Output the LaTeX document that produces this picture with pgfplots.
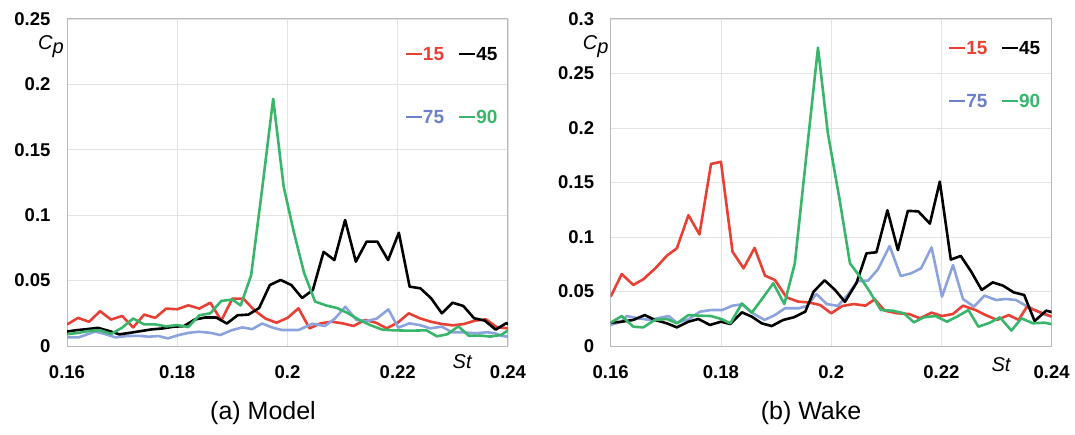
\documentclass[border=0pt]{standalone}
\usepackage{fontspec}
\setmainfont{Liberation Sans}
\usepackage{pgfplots}
\pgfplotsset{compat=1.18}

\definecolor{cpred}{RGB}{232,64,52}
\definecolor{cpblue}{RGB}{140,163,222}
\definecolor{cpbluetxt}{RGB}{108,128,205}
\definecolor{cpgreen}{RGB}{58,182,108}

% legend entry: short coloured dash followed by the angle
\newcommand{\lgd}[2]{{\color{#1}\rule[0.31em]{0.84em}{0.1em}\hspace{0.06em}\textbf{#2}}}

\pgfplotsset{
  cpstyle/.style={
    scale only axis, width=441pt, height=327pt,
    xmin=0.16, xmax=0.24, ymin=0,
    xtick={0.16,0.18,0.2,0.22,0.24},
    scaled ticks=false,
    /pgf/number format/.cd, fixed, precision=2, assume math mode=true, /pgfplots/.cd,
    grid=major, major grid style={color=gray!22, line width=0.8pt},
    axis line style={gray!55, line width=1pt},
    major tick length=0pt,
    clip mode=individual,
    tick label style={font=\fontsize{18.5}{20}\selectfont\bfseries},
    xticklabel style={yshift=-16pt},
    yticklabel style={xshift=-13pt},
    every axis plot/.append style={line width=2.6pt, line join=round, no marks},
  }
}

\begin{document}
\begin{tikzpicture}[x=1pt,y=1pt]
\path[use as bounding box] (0,0) rectangle (1075,434);

% ---------------- (a) Model ----------------
\begin{axis}[cpstyle, at={(67pt,88pt)}, anchor=south west,
  ymax=0.25, ytick={0,0.05,0.1,0.15,0.2,0.25}]
\addplot[cpred] coordinates {
(0.160,0.0164) (0.162,0.0215) (0.164,0.0185) (0.166,0.0266) (0.168,0.0202)
(0.170,0.0230) (0.172,0.0142) (0.174,0.0240) (0.176,0.0215) (0.178,0.0286)
(0.180,0.0281) (0.182,0.0311) (0.184,0.0286) (0.186,0.0331) (0.188,0.0195)
(0.190,0.0362) (0.192,0.0362) (0.194,0.0273) (0.196,0.0210) (0.198,0.0178)
(0.200,0.0215) (0.202,0.0288) (0.204,0.0135) (0.206,0.0173) (0.208,0.0186)
(0.210,0.0173) (0.212,0.0153) (0.214,0.0199) (0.216,0.0179) (0.218,0.0135)
(0.220,0.0179) (0.222,0.0250) (0.224,0.0212) (0.226,0.0186) (0.228,0.0168)
(0.230,0.0158) (0.232,0.0168) (0.234,0.0194) (0.236,0.0204) (0.238,0.0143)
(0.240,0.0135)};
\addplot[cpblue] coordinates {
(0.1600,0.0066) (0.1621,0.0066) (0.1651,0.0110) (0.1669,0.0091) (0.1688,0.0066)
(0.1709,0.0076) (0.1730,0.0078) (0.1748,0.0071) (0.1766,0.0076) (0.1783,0.0058)
(0.1803,0.0084) (0.1821,0.0101) (0.1839,0.0109) (0.1860,0.0101) (0.1878,0.0084)
(0.1899,0.0121) (0.1918,0.0142) (0.1936,0.0129) (0.1954,0.0172) (0.1972,0.0142)
(0.1990,0.0122) (0.2020,0.0122) (0.2045,0.0170) (0.2068,0.0153) (0.2086,0.0210)
(0.2105,0.0300) (0.2125,0.0199) (0.2144,0.0190) (0.2162,0.0210) (0.2183,0.0280)
(0.2201,0.0140) (0.2221,0.0173) (0.2240,0.0160) (0.2259,0.0135) (0.2280,0.0148)
(0.2298,0.0105) (0.2319,0.0105) (0.2340,0.0097) (0.2362,0.0105) (0.2377,0.0097)
(0.2389,0.0077) (0.2400,0.0071)};
\addplot[black] coordinates {
(0.15975,0.0109) (0.16170,0.0121) (0.16365,0.0129) (0.16560,0.0139) (0.16755,0.0116)
(0.16950,0.0089) (0.17145,0.0101) (0.17340,0.0114) (0.17535,0.0127) (0.17730,0.0134)
(0.17925,0.0147) (0.18120,0.0152) (0.18315,0.0202) (0.18510,0.0218) (0.18705,0.0218)
(0.18900,0.0172) (0.19095,0.0235) (0.19290,0.0240) (0.19485,0.0290) (0.19680,0.0466)
(0.19875,0.0505) (0.20070,0.0466) (0.20265,0.0367) (0.20460,0.0428) (0.20655,0.0720)
(0.20850,0.0657) (0.21045,0.0963) (0.21240,0.0645) (0.21435,0.0798) (0.21630,0.0798)
(0.21825,0.0657) (0.22020,0.0866) (0.22215,0.0454) (0.22410,0.0441) (0.22605,0.0365)
(0.22800,0.0250) (0.22995,0.0331) (0.23190,0.0306) (0.23385,0.0212) (0.23580,0.0194)
(0.23775,0.0125) (0.23970,0.0175) (0.24165,0.0130)};
\addplot[cpgreen] coordinates {
(0.1600,0.0090) (0.1620,0.0100) (0.1640,0.0115) (0.1660,0.0120) (0.1680,0.0092)
(0.1700,0.0140) (0.1720,0.0210) (0.1740,0.0165) (0.1760,0.0165) (0.1780,0.0150)
(0.1800,0.0160) (0.1820,0.0145) (0.1840,0.0235) (0.1860,0.0250) (0.1880,0.0345)
(0.1900,0.0355) (0.1915,0.0310) (0.1934,0.0540) (0.1954,0.1200) (0.1974,0.1890)
(0.1993,0.1220) (0.2011,0.0880) (0.2030,0.0560) (0.2050,0.0340) (0.2070,0.0310)
(0.2090,0.0290) (0.2110,0.0250) (0.2130,0.0200) (0.2150,0.0160) (0.2172,0.0125)
(0.2192,0.0120) (0.2212,0.0118) (0.2232,0.0118) (0.2252,0.0120) (0.2271,0.0074)
(0.2290,0.0090) (0.2310,0.0150) (0.2329,0.0078) (0.2349,0.0080) (0.2368,0.0072)
(0.2388,0.0085) (0.2400,0.0120)};
% legend
\node[anchor=west,inner sep=0pt,yshift=-35pt] at (rel axis cs:0.768,1) {\fontsize{19}{20}\selectfont\lgd{cpred}{15}};
\node[anchor=west,inner sep=0pt,yshift=-35pt] at (rel axis cs:0.889,1) {\fontsize{19}{20}\selectfont\lgd{black}{45}};
\node[anchor=west,inner sep=0pt,yshift=-98pt] at (rel axis cs:0.768,1) {\fontsize{19}{20}\selectfont\lgd{cpbluetxt}{75}};
\node[anchor=west,inner sep=0pt,yshift=-98pt] at (rel axis cs:0.889,1) {\fontsize{19}{20}\selectfont\lgd{cpgreen}{90}};
% axis names
\node[inner sep=0pt,xshift=-16pt,yshift=-28pt] at (rel axis cs:0,1) {\fontsize{20}{22}\selectfont\itshape C\raisebox{-0.2em}{p}};
\node[inner sep=0pt,yshift=-16pt] at (rel axis cs:0.896,0) {\fontsize{20}{22}\selectfont\itshape St};
\end{axis}

% ---------------- (b) Wake ----------------
\begin{axis}[cpstyle, at={(610.7pt,88pt)}, anchor=south west,
  ymax=0.3, ytick={0,0.05,0.1,0.15,0.2,0.25,0.3}]
\addplot[cpblue] coordinates {
(0.1600,0.0193) (0.1620,0.0223) (0.1629,0.0275) (0.1650,0.0254) (0.1671,0.0239)
(0.1690,0.0260) (0.1705,0.0275) (0.1720,0.0214) (0.1741,0.0245) (0.1762,0.0315)
(0.1782,0.0330) (0.1802,0.0330) (0.1821,0.0370) (0.1838,0.0382) (0.1856,0.0306)
(0.1879,0.0239) (0.1898,0.0284) (0.1916,0.0346) (0.1941,0.0346) (0.1956,0.0367)
(0.1973,0.0477) (0.1992,0.0385) (0.2012,0.0368) (0.2030,0.0470) (0.2048,0.0595)
(0.2067,0.0600) (0.2085,0.0705) (0.2106,0.0917) (0.2126,0.0642) (0.2145,0.0667)
(0.2163,0.0713) (0.2182,0.0905) (0.2201,0.0453) (0.2221,0.0743) (0.2239,0.0431)
(0.2259,0.0361) (0.2278,0.0462) (0.2299,0.0422) (0.2317,0.0431) (0.2335,0.0422)
(0.2353,0.0370) (0.2372,0.0324) (0.2390,0.0284) (0.2400,0.0270)};
\addplot[cpred] coordinates {
(0.1600,0.0453) (0.1620,0.0660) (0.1641,0.0560) (0.1659,0.0612) (0.1681,0.0713)
(0.1702,0.0829) (0.1720,0.0896) (0.1741,0.1200) (0.1761,0.1024) (0.1782,0.1670)
(0.1800,0.1690) (0.1821,0.0865) (0.1841,0.0713) (0.1861,0.0900) (0.1880,0.0645)
(0.1898,0.0605) (0.1919,0.0446) (0.1940,0.0407) (0.1959,0.0400) (0.1980,0.0376)
(0.2000,0.0300) (0.2020,0.0367) (0.2041,0.0385) (0.2062,0.0370) (0.2079,0.0428)
(0.2097,0.0324) (0.2120,0.0300) (0.2141,0.0294) (0.2161,0.0254) (0.2182,0.0306)
(0.2201,0.0275) (0.2221,0.0294) (0.2239,0.0370) (0.2262,0.0330) (0.2280,0.0284)
(0.2301,0.0239) (0.2322,0.0284) (0.2340,0.0239) (0.2355,0.0360) (0.2376,0.0315)
(0.2400,0.0270)};
\addplot[black] coordinates {
(0.1600,0.0214) (0.1620,0.0223) (0.1641,0.0239) (0.1662,0.0284) (0.1680,0.0239)
(0.1702,0.0208) (0.1720,0.0171) (0.1741,0.0223) (0.1759,0.0248) (0.1780,0.0193)
(0.1800,0.0223) (0.1817,0.0202) (0.1838,0.0309) (0.1856,0.0269) (0.1874,0.0208)
(0.1892,0.0183) (0.1913,0.0239) (0.1932,0.0263) (0.1953,0.0315) (0.1968,0.0498)
(0.1988,0.0603) (0.2007,0.0514) (0.2025,0.0405) (0.2046,0.0580) (0.2064,0.0850)
(0.2082,0.0860) (0.2102,0.1245) (0.2121,0.0880) (0.2139,0.1240) (0.2158,0.1235)
(0.2179,0.1123) (0.2197,0.1508) (0.2217,0.0793) (0.2235,0.0826) (0.2254,0.0682)
(0.2273,0.0514) (0.2293,0.0584) (0.2312,0.0553) (0.2331,0.0492) (0.2350,0.0468)
(0.2369,0.0229) (0.2390,0.0324) (0.2402,0.0309)};
\addplot[cpgreen] coordinates {
(0.1600,0.0214) (0.1620,0.0275) (0.1641,0.0177) (0.1659,0.0171) (0.1680,0.0239)
(0.1702,0.0248) (0.1720,0.0208) (0.1741,0.0284) (0.1762,0.0278) (0.1782,0.0275)
(0.1802,0.0245) (0.1817,0.0208) (0.1838,0.0390) (0.1856,0.0306) (0.1874,0.0428)
(0.1895,0.0575) (0.1915,0.0385) (0.1934,0.0758) (0.1955,0.1750) (0.1976,0.2737)
(0.1994,0.1950) (0.2015,0.1350) (0.2034,0.0759) (0.2052,0.0636) (0.2070,0.0498)
(0.2090,0.0330) (0.2111,0.0324) (0.2132,0.0300) (0.2150,0.0217) (0.2168,0.0263)
(0.2189,0.0275) (0.2210,0.0223) (0.2228,0.0269) (0.2249,0.0330) (0.2267,0.0177)
(0.2288,0.0214) (0.2306,0.0263) (0.2327,0.0141) (0.2345,0.0254) (0.2366,0.0208)
(0.2387,0.0214) (0.2400,0.0200)};
% legend
\node[anchor=west,inner sep=0pt,yshift=-29pt] at (rel axis cs:0.767,1) {\fontsize{19}{20}\selectfont\lgd{cpred}{15}};
\node[anchor=west,inner sep=0pt,yshift=-29pt] at (rel axis cs:0.887,1) {\fontsize{19}{20}\selectfont\lgd{black}{45}};
\node[anchor=west,inner sep=0pt,yshift=-82pt] at (rel axis cs:0.767,1) {\fontsize{19}{20}\selectfont\lgd{cpbluetxt}{75}};
\node[anchor=west,inner sep=0pt,yshift=-82pt] at (rel axis cs:0.887,1) {\fontsize{19}{20}\selectfont\lgd{cpgreen}{90}};
% axis names
\node[inner sep=0pt,xshift=-15pt,yshift=-28pt] at (rel axis cs:0,1) {\fontsize{20}{22}\selectfont\itshape C\raisebox{-0.2em}{p}};
\node[inner sep=0pt,yshift=-19pt] at (rel axis cs:0.885,0) {\fontsize{20}{22}\selectfont\itshape St};
\end{axis}

% panel captions
\node at (263,21) {\fontsize{25}{28}\selectfont (a) Model};
\node at (811,21) {\fontsize{25}{28}\selectfont (b) Wake};
\end{tikzpicture}
\end{document}
